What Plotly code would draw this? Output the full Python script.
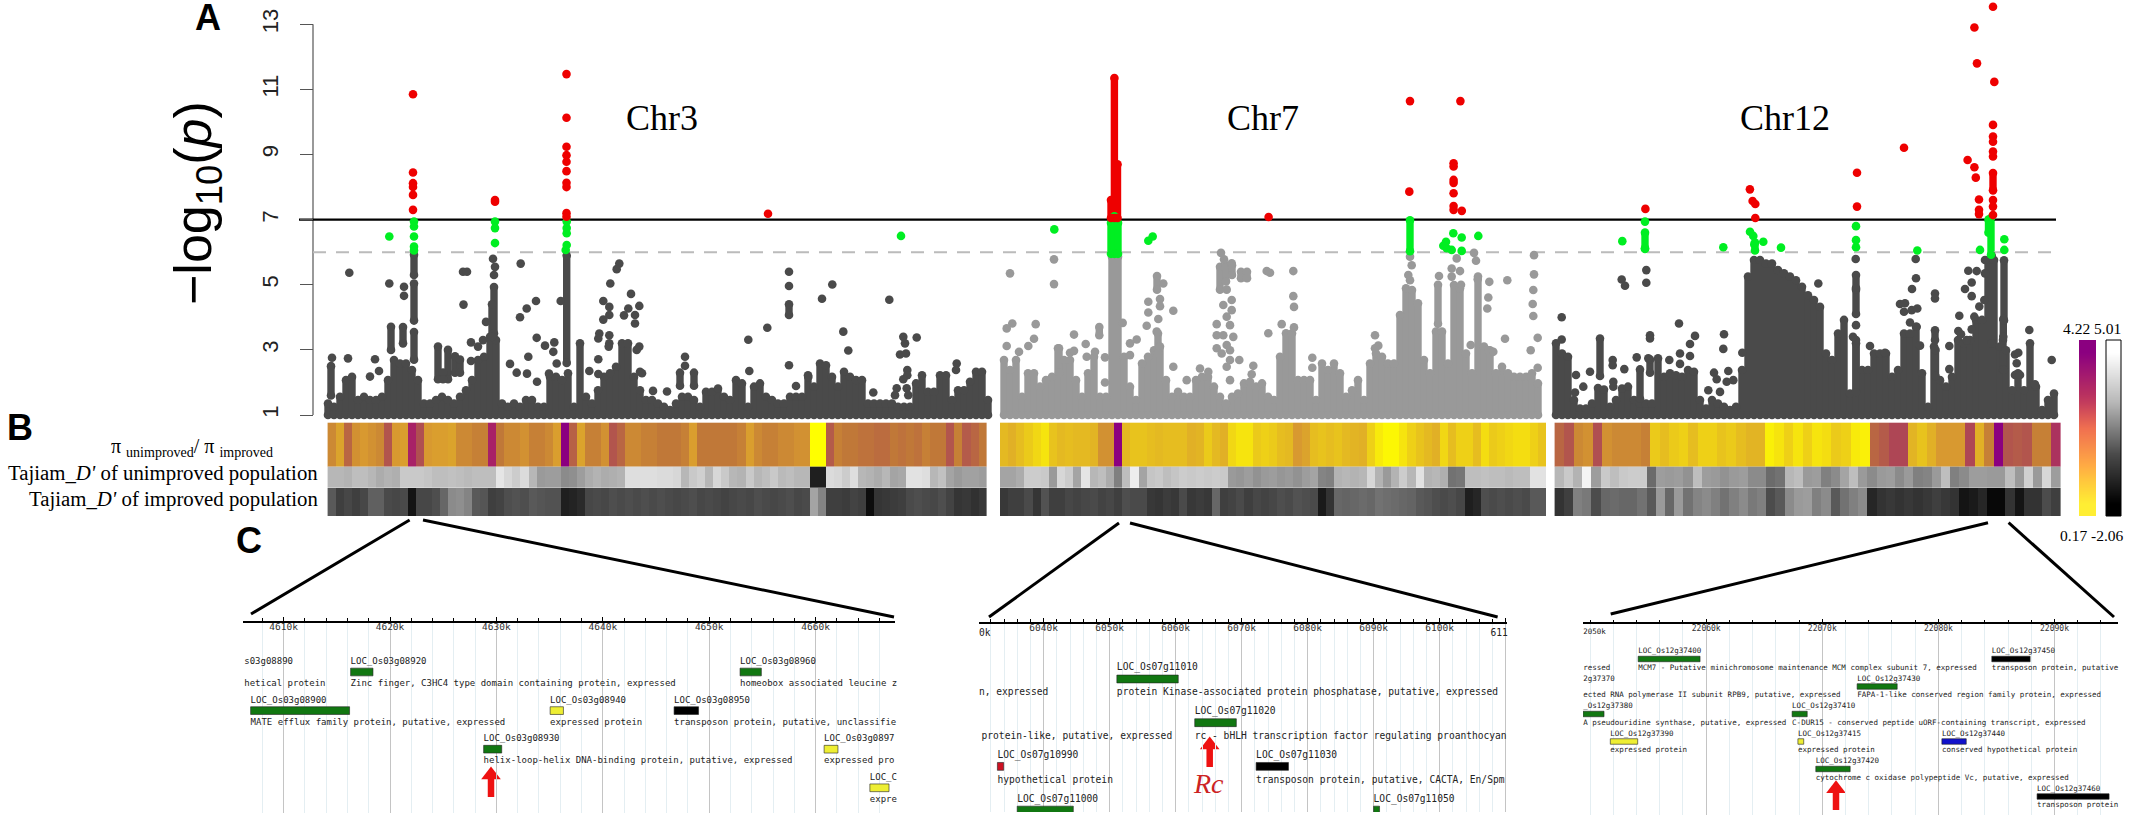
import plotly.graph_objects as go

W, H = 2139, 819

# ---- panel A: -log10(p), x is position along the strip, y is the value
chr3_bin_x = list(range(328, 994, 6))
chr3_top = [1.35, 1.25, 1.56, 2.07, 2.17, 1.46, 1.56, 1.46, 1.46, 1.56, 2.07, 2.69, 2.58, 2.58, 2.38, 2.07, 1.35, 1.35, 1.46, 1.56,
            1.46, 1.35, 1.56, 1.76, 2.07, 2.69, 2.79, 3.40, 3.30, 1.35, 1.25, 1.35, 1.25, 1.46, 1.46, 1.25, 1.25, 2.17, 2.17, 2.07,
            2.28, 1.25, 3.20, 1.56, 1.35, 1.76, 2.17, 2.28, 2.48, 3.20, 3.20, 2.17, 1.76, 1.46, 1.46, 1.35, 1.25, 1.15,
            1.35, 1.56, 1.56, 1.46, 1.25, 1.71, 1.71, 1.81, 1.56, 1.46, 2.07, 1.97, 1.25, 1.87, 1.97, 1.56, 1.46, 1.35, 1.35, 1.56,
            1.56, 1.56, 2.22, 1.87, 2.58, 2.53, 2.17, 1.87, 2.33, 2.17, 2.07, 2.07, 1.35, 1.35, 1.35, 1.35, 1.35, 1.25, 1.25, 1.25,
            1.97, 2.22, 1.71, 1.71, 2.22, 2.22, 1.46, 1.76, 1.76, 2.02, 2.33, 2.33, 1.46]
chr3_seg_x = [414, 414, 414, 391, 403, 331, 438, 448, 455, 460, 443, 494, 492, 566.7, 789, 680, 694]
chr3_seg_lo = [5.3, 3.9, 2.7, 3.0, 3.2, 1.6, 2.1, 2.1, 2.3, 2.3, 2.1, 3.5, 3.4, 2.6, 4.07, 1.9, 1.9]
chr3_seg_hi = [5.92, 5.04, 3.55, 3.71, 3.7, 2.5, 3.1, 3.0, 2.8, 2.7, 2.3, 4.93, 4.4, 5.9, 4.4, 2.3, 2.3]
chr3_dot_x = [404, 404, 349.3, 389.3, 332, 348, 375, 379, 370, 471, 471, 478, 483, 486, 463, 467, 463.5, 520.7, 536, 526.7, 520, 536.7,
              545, 554.3, 553.3, 528.3, 556.7, 549, 493, 495, 494, 560.7, 510, 516.7, 527, 537, 619.3, 616.7, 610.3, 603.3, 609.3, 609.3,
              603.3, 599.3, 598.3, 609.3, 609.3, 608.7, 598.3, 598.3, 589.3, 631, 639.3, 628.3, 624, 635, 635, 639.3, 636.7, 640, 642,
              653, 667, 789, 789, 767.3, 748.3, 749.3, 789, 832.3, 822, 843.3, 848.3, 889.3, 903.3, 905, 906, 900, 916.7, 956.7, 956,
              907.3, 907.3, 903.3, 896.7, 895, 906.7, 908.3, 873.3, 796, 685, 685, 808.3]
chr3_dot_y = [4.94, 4.66, 5.37, 5.04, 2.76, 2.74, 2.71, 2.35, 2.18, 3.23, 2.66, 3.1, 3.3, 3.86, 5.4, 5.4, 4.39, 5.65, 4.5, 4.27, 4.0, 3.37,
              3.13, 3.23, 2.94, 2.79, 2.58, 2.27, 5.8, 5.55, 5.3, 4.5, 2.57, 2.3, 2.27, 2.02, 5.65, 5.48, 5.04, 4.5, 4.32, 4.07,
              3.93, 3.5, 3.35, 3.45, 3.2, 3.1, 2.71, 2.26, 2.35, 4.72, 4.35, 4.27, 4.06, 4.07, 3.81, 3.1, 3.0, 2.33, 2.28,
              1.74, 1.72, 5.40, 4.96, 3.68, 3.31, 2.35, 2.53, 5.01, 4.57, 3.56, 2.98, 4.54, 3.4, 3.2, 2.89, 2.86, 3.38, 2.58, 2.38,
              2.38, 2.22, 2.1, 1.82, 1.61, 1.82, 1.61, 1.69, 1.89, 2.79, 2.51, 2.17]

chr7_bin_x = list(range(1004, 1544, 6))
chr7_top = [2.69, 2.38, 2.69, 1.56, 2.28, 2.28, 1.87, 2.07, 2.17, 3.05, 2.69, 2.69, 2.07, 1.56, 2.28, 2.79, 1.56, 1.56, 5.86, 5.86,
            2.79, 1.87, 1.46, 2.58, 2.79, 2.99, 3.10, 2.07, 1.56, 1.71, 1.56, 1.56, 2.07, 2.17, 2.17, 1.87, 1.56, 1.35, 1.56, 1.66,
            1.97, 2.02, 1.87, 1.97, 1.56, 1.46, 2.79, 3.51, 3.51, 2.07, 2.07, 2.07, 1.46, 2.58, 2.38, 2.58, 2.28, 1.56,
            1.76, 2.07, 1.46, 2.58, 2.89, 2.79, 2.58, 2.58, 4.07, 4.89, 4.84, 4.43, 2.69, 2.28, 3.56, 3.56, 2.58, 4.99, 4.89, 2.89,
            2.28, 5.25, 3.10, 2.99, 2.28, 2.48, 2.28, 2.17, 2.17, 2.17, 2.28, 1.97]
chr7_seg_x = [1099.3, 1059, 1157, 1158, 1220, 1226, 1232, 1241, 1247, 1438]
chr7_seg_lo = [3.45, 2.3, 4.85, 2.9, 4.85, 5.1, 5.3, 5.2, 5.2, 3.8]
chr7_seg_hi = [3.7, 3.05, 5.27, 3.5, 5.55, 5.6, 5.6, 5.4, 5.4, 5.0]
chr7_dot_x = [1054, 1054, 1010, 1012.3, 1006.7, 1035.7, 1034, 1006.7, 1028.3, 1019, 1074, 1085.7, 1070, 1074, 1095, 1086.7, 1105, 1105,
              1122.7, 1136.7, 1130, 1130, 1163.3, 1160, 1148.3, 1148.3, 1160, 1173.3, 1146.7, 1158.3, 1156.7, 1173.3, 1221, 1224, 1231.7,
              1226.7, 1231.7, 1223.3, 1231.7, 1226.7, 1230, 1216.7, 1233.3, 1216.7, 1223.3, 1226.7, 1216.7, 1221.7, 1230, 1230, 1226.7,
              1239.3, 1253.3, 1251.7, 1230, 1266.7, 1270, 1293.3, 1293.3, 1294, 1281.7, 1268.3, 1294, 1312.3, 1312.3, 1200, 1208.3, 1186.7,
              1439, 1410, 1411.7, 1408.3, 1410, 1456.7, 1451.7, 1460, 1451.7, 1461, 1474, 1476, 1477.7, 1489.3, 1507.3, 1488.3, 1487.3,
              1534, 1534, 1533.3, 1532.7, 1533.3, 1537.7, 1530.7, 1537.7, 1505, 1375, 1378.3, 1375, 1470.7, 1488.3, 1493.3]
chr7_dot_y = [5.78, 5.02, 5.35, 3.81, 3.66, 3.79, 3.34, 3.12, 3.12, 2.94, 3.47, 3.18, 2.91, 2.97, 2.94, 2.79, 2.77, 2.0,
              3.83, 3.32, 3.2, 2.84, 5.04, 4.56, 4.48, 4.15, 4.34, 4.2, 3.74, 3.95, 3.56, 2.48, 5.98, 5.78, 5.66,
              4.85, 4.53, 4.38, 4.22, 4.02, 3.76, 3.79, 3.4, 3.45, 3.45, 3.15, 3.05, 2.89, 2.99, 2.69, 2.48,
              2.69, 2.51, 2.25, 2.07, 5.42, 5.37, 5.42, 4.65, 4.32, 3.79, 3.51, 3.69, 2.76, 2.45, 2.43, 2.33, 2.07,
              5.27, 5.86, 5.6, 5.3, 5.14, 5.81, 5.5, 5.42, 5.25, 5.0, 5.98, 5.74, 5.17, 5.09, 5.14, 4.61, 4.27,
              5.91, 5.32, 4.84, 4.41, 4.04, 3.37, 2.99, 2.45, 3.34, 3.45, 3.13, 3.05, 3.15, 2.99, 2.94]

chr12_bin_x = list(range(1556, 2060, 6))
chr12_top = [3.2, 2.89, 2.79, 1.46, 1.2, 1.2, 1.35, 1.83, 1.78, 1.25, 1.46, 1.81, 1.87, 1.46, 1.35, 1.35, 1.35, 2.74, 2.17, 2.28, 2.22, 2.17, 2.38, 2.33,
             1.46, 1.2, 1.46, 1.35, 1.25, 1.15, 1.25, 2.38, 5.25, 5.76, 5.76, 5.65, 5.65, 5.45, 5.35, 5.25, 5.14, 4.94, 4.68, 4.53, 4.32, 2.89, 2.69, 3.5,
             3.92, 1.66, 3.2, 2.38, 2.38, 2.89, 2.89, 2.89, 2.17, 2.38, 3.5, 3.5, 3.71, 2.28, 1.25, 3.1, 2.07, 1.87, 2.17, 3.3, 3.2, 3.3, 3.92, 3.92,
             5.76, 5.76, 3.1, 2.99, 1.76, 2.28, 1.76, 3.2, 1.87, 1.15, 1.46, 1.66]
chr12_seg_x = [1600, 1650, 1640, 1856, 1856, 1856, 1935, 1935.5, 1991.7, 2004, 2003.3, 2003]
chr12_seg_lo = [2.2, 2.3, 1.5, 4.9, 4.1, 1.7, 3.3, 2.2, 3.2, 3.9, 3.4, 2.4]
chr12_seg_hi = [3.35, 2.7, 2.4, 5.3, 4.85, 3.3, 3.6, 3.0, 5.9, 5.75, 3.95, 3.3]
chr12_dot_x = [1561.7, 1561.7, 1576, 1590, 1583.3, 1575, 1612.7, 1612.7, 1624.3, 1613.3, 1613.3, 1621.7, 1625, 1646.3, 1646.3, 1650, 1650, 1636.7, 1648.3,
               1679, 1695, 1690, 1680, 1690, 1680, 1669.3, 1724, 1723.3, 1742.3, 1714, 1728.3, 1716.7, 1726.7, 1733.3, 1708.3, 1720, 1818.3,
               1855.7, 1856, 1853, 1870, 1885, 1915.7, 1916, 1912, 1900, 1905, 1904, 1911.7, 1917.3, 1910, 1916.7, 1920, 1935, 1935,
               1949.3, 1949.3, 1968.3, 1976.7, 1971.7, 1965, 1971.7, 1985, 1985, 1984.3, 1979.3, 1959.3, 1974.3, 1958.3, 1971.7, 1961, 1966.7,
               2004, 2015, 2018.3, 2016.7, 2015, 2020, 2029.3, 2051.7, 2035]
chr12_dot_y = [4.0, 3.32, 2.23, 2.33, 1.87, 1.69, 2.69, 2.53, 2.41, 2.02, 1.87, 5.16, 4.97, 5.45, 5.06, 3.45, 3.35, 2.77, 2.74,
               3.81, 3.43, 3.18, 2.89, 2.81, 2.57, 2.69, 3.48, 3.03, 2.91, 2.3, 2.35, 2.1, 2.02, 2.07, 1.76, 1.71, 5.04,
               5.79, 3.76, 3.4, 3.12, 2.91, 5.79, 5.2, 4.87, 4.41, 4.43, 4.17, 4.22, 4.27, 3.84, 3.71, 3.13, 4.73, 4.58,
               3.12, 2.41, 5.43, 5.42, 5.07, 4.87, 4.65, 5.35, 5.76, 4.53, 4.33, 4.05, 4.02, 3.58, 3.63, 3.48, 3.3,
               2.38, 2.86, 2.91, 2.59, 2.23, 2.23, 3.61, 2.69, 1.94]

red_x = [413, 413, 413, 413, 413, 413, 495, 495, 566.5, 566.5, 566.5, 566.5, 566.5, 566.5, 566.5, 566.5, 566.5, 566.5, 768,
         1268.6, 1410, 1409.3, 1460.4, 1453.6, 1453.6, 1453.6, 1453.6, 1453.6, 1453.6, 1453.6, 1461.8,
         1645.4, 1749.9, 1752.6, 1755.3, 1755.3, 1857, 1857, 1904, 1967.6, 1974.4, 1975.8, 1979, 1979, 1979,
         1974.4, 1977, 1993, 1994.3, 1993, 1993, 1993, 1993, 1993, 1993, 1993, 1993]
red_y = [10.85, 8.45, 8.12, 8.0, 7.76, 7.3, 7.6, 7.55, 11.47, 10.13, 9.24, 8.98, 8.78, 8.49, 8.13, 8.0, 7.2, 7.09, 7.18,
         7.08, 10.64, 7.86, 10.64, 8.73, 8.63, 8.22, 8.13, 7.81, 7.42, 7.3, 7.27,
         7.33, 7.93, 7.57, 7.48, 7.05, 8.44, 7.4, 9.21, 8.83, 8.61, 8.29, 7.62, 7.3, 7.17,
         12.9, 11.8, 13.54, 11.23, 9.91, 9.55, 9.39, 9.09, 8.94, 7.6, 7.4, 7.14]
red_seg_x = [1114.4, 1111, 1117.5, 1993]
red_seg_lo = [7.05, 7.05, 7.05, 7.9]
red_seg_hi = [11.35, 7.6, 8.7, 8.43]

green_x = [389.3, 414, 414, 414, 414, 414, 495, 495, 495, 566.7, 566.7, 566.7, 565.7, 566.7, 901, 1054.3, 1148.3, 1152.7, 1453.3, 1461.7, 1478.3,
           1446, 1443.3, 1451.7, 1461.7, 1446.7, 1622.3, 1645, 1645, 1723.3, 1750, 1753.3, 1754.3, 1763.3, 1781, 1856, 1856, 1856, 1917.3, 1980, 2004.3, 2004.3]
green_y = [6.48, 6.94, 6.79, 6.48, 6.17, 6.05, 6.94, 6.74, 6.28, 6.74, 6.58, 6.22, 6.07, 6.94, 6.5, 6.7, 6.35, 6.48, 6.58, 6.45, 6.5,
           6.32, 6.2, 6.07, 6.04, 6.12, 6.34, 6.94, 6.12, 6.15, 6.63, 6.5, 6.24, 6.32, 6.14, 6.8, 6.37, 6.15, 6.05, 6.07, 6.4, 6.07]
green_seg_x = [1111, 1114.4, 1118, 1410, 1645, 1991, 1755, 1988.5]
green_seg_lo = [5.95, 5.95, 5.95, 6.03, 6.1, 5.92, 6.05, 6.6]
green_seg_hi = [6.9, 7.1, 6.9, 6.98, 6.6, 7.05, 6.3, 7.0]

# ---- panel B: strips
pi_chr3 = [2.2, 1.8, 2.7, 2.1, 2.0, 2.1, 2.2, 3.0, 2.0, 1.9, 3.6, 3.1, 2.0, 1.9, 1.9, 1.8, 2.2, 2.2, 2.3, 2.3, 3.6, 2.4, 2.2, 2.2, 2.1, 2.3, 2.3, 2.2, 1.9,
           4.22, 2.8, 1.8, 2.3, 2.3, 2.1, 3.0, 2.7, 2.2, 2.2, 2.3, 2.3, 2.4, 2.4, 2.4, 2.3, 1.9, 2.4, 2.4, 2.4, 2.4, 2.4, 2.3, 1.9, 2.2, 2.3, 2.3, 2.2, 2.2, 2.1, 2.1,
           0.17, 0.17, 2.9, 2.3, 2.4, 2.4, 2.5, 2.5, 2.6, 2.6, 2.4, 2.5, 2.4, 2.5, 2.3, 2.4, 2.4, 3.0, 2.3, 2.9, 2.7, 2.4]
pi_chr7 = [1.3, 1.5, 1.2, 1.0, 0.8, 0.6, 1.1, 1.3, 1.2, 1.3, 1.3, 1.4, 2.1, 2.1, 4.22, 1.3, 1.1, 1.1, 1.2, 1.3, 1.2, 1.2, 1.2, 1.5, 1.4, 1.0, 1.3, 1.5,
           0.8, 0.6, 0.6, 1.0, 0.9, 1.0, 1.2, 1.3, 2.0, 1.8, 1.2, 1.1, 1.2, 1.1, 1.3, 1.4, 1.5, 0.9, 0.5, 0.3, 0.3, 0.6, 0.9, 1.1, 1.3, 1.5, 0.8, 1.2, 0.9, 0.9,
           1.2, 0.7, 1.0, 0.9, 0.8, 0.7, 0.7, 0.9, 1.1]
pi_chr12 = [2.7, 3.0, 2.2, 2.1, 3.1, 2.1, 2.2, 2.2, 2.2, 2.3, 1.0, 1.2, 1.0, 0.9, 1.2, 0.9, 0.9, 1.1, 1.0, 1.2, 1.4, 1.4, 0.4, 0.6, 0.9, 0.6, 0.9, 0.6, 0.7,
            1.0, 0.9, 0.5, 0.4, 2.7, 2.9, 3.2, 3.2, 1.4, 1.1, 1.5, 2.0, 2.0, 2.0, 3.2, 1.5, 2.3, 4.22, 3.0, 2.9, 3.0, 2.3, 2.3, 3.4]
tu_chr3 = [3.0, 3.0, 2.9, 3.2, 3.2, 3.0, 2.7, 2.9, 2.8, 3.5, 3.5, 3.5, 3.4, 3.2, 3.2, 3.3, 3.2, 3.1, 3.2, 3.2, 3.2, 4.3, 3.9, 3.6, 4.0, 3.0, 2.2, 2.3, 2.3,
           1.8, 1.9, 2.3, 2.7, 2.9, 2.7, 2.8, 2.9, 4.1, 4.1, 4.1, 4.1, 4.0, 4.0, 3.9, 3.0, 3.5, 3.7, 3.0, 3.9, 3.5, 3.0, 2.9, 3.5, 3.0, 3.2, 3.5, 3.1, 3.2, 3.0, 3.0,
           -1.2, -1.2, 4.0, 3.9, 3.6, 4.1, 3.0, 2.9, 2.7, 3.0, 2.5, 2.6, 4.2, 4.2, 4.1, 3.0, 3.3, 2.5, 2.2, 2.4, 2.4, 2.3]
tu_chr7 = [2.5, 2.5, 2.7, 3.6, 3.6, 3.5, 2.2, 3.9, 3.6, 2.5, 4.3, 3.0, 3.2, 2.7, 1.5, 3.2, 4.5, 2.5, 3.4, 3.5, 3.2, 3.4, 3.6, 3.5, 3.6, 3.5, 3.6, 3.5,
           2.2, 2.1, 2.3, 2.0, 2.2, 2.3, 2.1, 2.2, 2.0, 2.3, 2.5, 1.6, 1.5, 2.9, 3.0, 2.9, 3.0, 3.9, 2.9, 2.2, 2.9, 3.6, 3.0, 4.2, 2.9, 3.0, 2.8, 1.1, 1.2,
           3.2, 3.2, 3.3, 3.2, 3.2, 3.1, 3.2, 3.2, 4.2, 4.2]
tu_chr12 = [3.0, 3.5, 2.9, 4.7, 2.3, 3.5, 3.2, 3.5, 3.6, 3.6, 0.9, 2.3, 2.2, 2.3, 2.0, 3.2, 2.3, 2.2, 2.0, 2.2, 2.3, 1.8, 1.8, 0.9, 1.1, 3.0, 3.2, 2.2, 2.3,
            1.5, 1.8, 2.5, 3.2, 2.2, 1.8, 2.2, 2.3, 1.8, 2.2, 1.5, 1.6, 2.2, 3.2, 1.5, 1.8, 2.3, 2.3, 2.2, 2.2, 3.2, 2.2, 3.7, 2.2, 3.9, 2.3]
ti_chr3 = [0.4, -0.3, -0.1, -0.3, -0.1, 0.6, 0.6, 0.0, -0.1, 0.0, -1.5, -0.1, -0.1, 0.1, 0.8, 1.8, 1.9, 1.6, 0.4, 0.3, -0.3, -0.2, 0.1, 0.2, 0.1, 0.4, 0.3, 0.2, 0.2,
           -1.2, -1.1, -0.9, -0.1, 0.0, -0.1, 0.1, 0.0, 0.1, 0.0, 0.1, 0.0, 0.1, 0.0, -0.1, 0.0, 0.1, -0.1, 0.0, -0.1, -0.2, -0.1, 0.0, -0.1, 0.1, 0.0, -0.1, 0.0, 0.1, -0.1, 0.0,
           2.5, 1.6, -0.3, -0.3, -0.4, -0.2, -0.3, -1.7, -0.6, -0.5, -0.4, -0.3, 0.0, 0.1, 0.0, -0.1, 0.1, -0.2, -0.6, -0.5, -0.7, -0.5]
ti_chr7 = [-0.5, -0.3, -0.3, 0.0, -0.6, 0.2, -0.3, -0.3, -0.1, -0.2, -0.1, 0.0, -0.2, -0.1, -0.3, 0.1, 0.0, 0.0, -0.5, -0.6, -0.4, -0.5, 0.0, -0.5, -0.4, -0.5, 0.8,
           -0.3, -0.2, 0.0, -0.3, -0.1, -0.2, -0.1, 0.1, 0.0, 0.2, 0.1, 0.0, -1.35, -0.65, 0.8, 0.7, 0.8, 0.9, 0.8, 1.1, 1.0, 0.9, 0.8, 0.7, 0.4, 0.3, 0.1, 0.0, 0.1, -0.1,
           -1.2, -1.0, 0.1, 0.0, 0.1, 0.0, 0.1, 0.0, 0.4, 0.4]
ti_chr12 = [-0.65, -0.3, 1.5, 1.3, 0.06, 0.8, 0.9, 0.8, 0.8, 1.1, 0.4, 2.2, 0.8, 2.2, 1.1, 1.6, 1.8, 1.5, 1.1, 1.5, 1.8, 1.3, 1.5, 0.06, 0.4, 1.8, 2.2, 2.3, 1.5, 1.8,
            0.4, 1.1, 1.5, 1.8, -1.0, -0.65, -0.5, -0.65, -0.5, -0.65, -0.5, -0.3, -0.5, -0.65, -1.5, -1.35, -1.0, -1.85, -1.85, -0.65, -1.5, -0.65, -0.65, 0.06, -0.3]

pi_scale_z = [4.22, 3.6, 3.0, 2.2, 1.5, 0.8, 0.17]
gray_scale_z = [5.01, 4.0, 3.0, 1.5, 0.0, -1.0, -2.06]

# ---- panel C: gene tracks, positions in kb
p1_names = ["LOC_Os03g08920", "LOC_Os03g08960", "LOC_Os03g08900", "LOC_Os03g08940", "LOC_Os03g08950", "LOC_Os03g08930", "LOC_Os03g0897", "LOC_C"]
p1_start = [4616.3, 4652.9, 4606.9, 4635.05, 4646.7, 4628.8, 4660.8, 4665.1]
p1_end = [4618.4, 4654.9, 4616.2, 4636.3, 4649.0, 4630.5, 4662.1, 4666.9]
p1_row = [0, 0, 1, 1, 1, 2, 2, 3]
p1_color = ["#117711", "#117711", "#117711", "#EEEE33", "#000000", "#117711", "#EEEE33", "#EEEE33"]
p1_desc = ["Zinc finger, C3HC4 type domain containing protein, expressed", "homeobox associated leucine z",
           "MATE efflux family protein, putative, expressed", "expressed protein", "transposon protein, putative, unclassifie",
           "helix-loop-helix DNA-binding protein, putative, expressed", "expressed pro", "expre"]
p1_extra_x = [4606.3, 4606.3]
p1_extra_row = [-0.26, 0.31]
p1_extra_text = ["s03g08890", "hetical protein"]

p2_names = ["LOC_Os07g11010", "LOC_Os07g11020", "LOC_Os07g10990", "LOC_Os07g11030", "LOC_Os07g11000", "LOC_Os07g11050"]
p2_start = [6051.1, 6062.9, 6033.0, 6072.2, 6036.0, 6090.0]
p2_end = [6060.4, 6069.2, 6033.95, 6077.1, 6044.5, 6090.9]
p2_row = [0, 1, 2, 2, 3, 3]
p2_color = ["#117711", "#117711", "#CC1122", "#000000", "#117711", "#117711"]
p2_desc = ["protein Kinase-associated protein phosphatase, putative, expressed", "rc - bHLH transcription factor regulating proanthocyan",
           "hypothetical protein", "transposon protein, putative, CACTA, En/Spm", "", ""]
p2_extra_x = [6030.2, 6030.6, 6030.2, 6107.7]
p2_extra_row = [0.32, 1.32, -1.05, -1.05]
p2_extra_text = ["n, expressed", "protein-like, putative, expressed", "0k", "611"]

p3_names = ["LOC_Os12g37400", "LOC_Os12g37450", "LOC_Os12g37430", "_Os12g37380", "LOC_Os12g37410", "LOC_Os12g37390", "LOC_Os12g37415",
            "LOC_Os12g37440", "LOC_Os12g37420", "LOC_Os12g37460"]
p3_start = [22054.14, 22084.6, 22073.0, 22049.4, 22067.4, 22051.74, 22067.9, 22080.3, 22069.44, 22088.5]
p3_end = [22059.47, 22087.9, 22076.45, 22051.2, 22068.7, 22054.1, 22068.4, 22082.4, 22072.4, 22094.7]
p3_row = [0, 0, 1, 2, 2, 3, 3, 3, 4, 5]
p3_color = ["#117711", "#000000", "#117711", "#117711", "#117711", "#EEEE33", "#EEEE33", "#1111CC", "#117711", "#000000"]
p3_desc = ["MCM7 - Putative minichromosome maintenance MCM complex subunit 7, expressed", "transposon protein, putative",
           "FAPA-1-like conserved region family protein, expressed", "A pseudouridine synthase, putative, expressed",
           "C-DUR15 - conserved peptide uORF-containing transcript, expressed", "expressed protein", "expressed protein",
           "conserved hypothetical protein", "cytochrome c oxidase polypeptide Vc, putative, expressed", "transposon protein"]
p3_extra_x = [22049.4, 22049.4, 22049.4, 22049.4]
p3_extra_row = [0.32, 0.73, 1.32, -0.98]
p3_extra_text = ["ressed", "2g37370", "ected RNA polymerase II subunit RPB9, putative, expressed", "2050k"]

GREEN, RED = "#00EE22", "#EE0000"
DARK, LIGHT = "#4A4A4A", "#999999"

fig = go.Figure()

# axis line stops at 13 although the scale runs on to the top of the page
fig.add_trace(go.Scatter(x=[313, 313], y=[1, 13], mode="lines", line=dict(color="#555555", width=1.2), hoverinfo="skip"))
# threshold lines go under the dots
fig.add_trace(go.Scatter(x=[313, 2056], y=[6, 6], mode="lines", line=dict(color="#BBBBBB", width=2, dash="13px,10px"),
                         hoverinfo="skip"))
fig.add_trace(go.Scatter(x=[299, 2056], y=[7, 7], mode="lines", line=dict(color="black", width=2.2),
                         hoverinfo="skip"))


def add_points(bin_x, top, seg_x, seg_lo, seg_hi, dot_x, dot_y, color):
    xs = list(bin_x) + list(seg_x)
    lows = [1.0] * len(bin_x) + list(seg_lo)
    highs = list(top) + list(seg_hi)
    fig.add_trace(go.Bar(x=xs, base=lows, y=[h - l for h, l in zip(highs, lows)], width=7.4,
                         marker=dict(color=color, line=dict(width=0)), cliponaxis=False, hoverinfo="skip"))
    fig.add_trace(go.Scatter(x=xs + xs + list(dot_x), y=highs + lows + list(dot_y), mode="markers",
                             marker=dict(color=color, size=8.6), cliponaxis=False, hoverinfo="skip"))


add_points(chr3_bin_x, chr3_top, chr3_seg_x, chr3_seg_lo, chr3_seg_hi, chr3_dot_x, chr3_dot_y, DARK)
add_points(chr7_bin_x, chr7_top, chr7_seg_x, chr7_seg_lo, chr7_seg_hi, chr7_dot_x, chr7_dot_y, LIGHT)
add_points(chr12_bin_x, chr12_top, chr12_seg_x, chr12_seg_lo, chr12_seg_hi, chr12_dot_x, chr12_dot_y, DARK)
add_points([], [], green_seg_x, green_seg_lo, green_seg_hi, green_x, green_y, GREEN)
add_points([], [], red_seg_x, red_seg_lo, red_seg_hi, red_x, red_y, RED)

heat_pi = [[0, "#FFFF00"], [0.12, "#F5E010"], [0.25, "#E6BE20"], [0.45, "#D89A30"], [0.55, "#C07838"],
           [0.72, "#B05050"], [0.85, "#A82068"], [1, "#8B0080"]]
heat_gray = [[0, "#000000"], [1, "#FFFFFF"]]
bar_pi = [[0, "#FFEE33"], [0.25, "#FFAA44"], [0.5, "#F07050"], [0.75, "#B83060"], [1, "#8B0080"]]


def add_strip(values, x0, x1, y0, y1, scale, zmin, zmax):
    dx = (x1 - x0) / len(values)
    fig.add_trace(go.Heatmap(z=[values], x0=x0 + dx / 2, dx=dx, y=[y0, y1], colorscale=scale,
                             zmin=zmin, zmax=zmax, showscale=False, yaxis="y2", hoverinfo="skip"))


rows_px = [(422.7, 466.7), (466.7, 488), (488, 515.5)]
for x0, x1, strips in [(327.6, 987, (pi_chr3, tu_chr3, ti_chr3)), (1000, 1546, (pi_chr7, tu_chr7, ti_chr7)),
                       (1554.6, 2061, (pi_chr12, tu_chr12, ti_chr12))]:
    add_strip(strips[0], x0, x1, rows_px[0][0], rows_px[0][1], heat_pi, 0.17, 4.22)
    add_strip(strips[1], x0, x1, rows_px[1][0], rows_px[1][1], heat_gray, -2.06, 5.01)
    add_strip(strips[2], x0, x1, rows_px[2][0], rows_px[2][1], heat_gray, -2.06, 5.01)

# the two colour keys, stops evenly spaced from y=340 to y=516
for x0, x1, vals, scale in [(2079, 2096, pi_scale_z, bar_pi), (2106, 2121, gray_scale_z, heat_gray)]:
    step = (516 - 340) / len(vals)
    fig.add_trace(go.Heatmap(z=[[v] * 2 for v in vals], x0=x0 + (x1 - x0) / 4, dx=(x1 - x0) / 2, y0=340 + step / 2, dy=step,
                             colorscale=scale, zmin=min(vals), zmax=max(vals),
                             zsmooth="best", showscale=False, yaxis="y2", hoverinfo="skip"))

# lines that fan out from the strips to the gene views
fan_x = [[409.6, 251], [423, 894], [1119, 989], [1130, 1497.6], [1988, 1610.7], [2008.6, 2114]]
fan_y = [[520, 614], [520, 617], [523, 617], [523, 617], [522.7, 614], [522.7, 617]]
for fx, fy in zip(fan_x, fan_y):
    fig.add_trace(go.Scatter(x=fx, y=fy, mode="lines", line=dict(color="black", width=3), yaxis="y2", hoverinfo="skip"))

# outline of the gray key
fig.add_trace(go.Scatter(x=[2106, 2121, 2121, 2106, 2106], y=[340, 340, 516, 516, 340], mode="lines",
                         line=dict(color="black", width=1), yaxis="y2", hoverinfo="skip"))


def add_genes(n, names, start, end, row, color, desc, ex_x, ex_row, ex_text, bar_h, name_off, desc_off, size):
    xa, ya = f"x{n}", f"y{n}"
    fig.add_trace(go.Bar(y=row, base=start, x=[b - a for a, b in zip(start, end)], orientation="h", width=bar_h,
                         marker=dict(color=color, line=dict(color="#222222", width=0.6)), xaxis=xa, yaxis=ya, hoverinfo="skip"))
    font = dict(family="DejaVu Sans Mono", size=size, color="#222222")
    fig.add_trace(go.Scatter(x=start, y=[r + name_off for r in row], text=names, mode="text", textposition="middle right",
                             textfont=font, xaxis=xa, yaxis=ya, cliponaxis=False, hoverinfo="skip"))
    keep = [i for i, d in enumerate(desc) if d]
    fig.add_trace(go.Scatter(x=[start[i] for i in keep], y=[row[i] + desc_off for i in keep], text=[desc[i] for i in keep],
                             mode="text", textposition="middle right",
                             textfont=font, xaxis=xa, yaxis=ya, cliponaxis=False, hoverinfo="skip"))
    fig.add_trace(go.Scatter(x=ex_x, y=ex_row, text=ex_text, mode="text", textposition="middle right",
                             textfont=font, xaxis=xa, yaxis=ya, cliponaxis=False, hoverinfo="skip"))


add_genes(3, p1_names, p1_start, p1_end, p1_row, p1_color, p1_desc, p1_extra_x, p1_extra_row, p1_extra_text, 0.2, -0.26, 0.31, 9)
add_genes(4, p2_names, p2_start, p2_end, p2_row, p2_color, p2_desc, p2_extra_x, p2_extra_row, p2_extra_text, 0.18, -0.25, 0.32, 9.6)
add_genes(5, p3_names, p3_start, p3_end, p3_row, p3_color, p3_desc, p3_extra_x, p3_extra_row, p3_extra_text, 0.2, -0.27, 0.32, 7.5)

# red arrows: shaft plus triangle head
for ax_x, tip_y, tail_y in [(491, 768, 797), (1209.7, 738, 767), (1836, 781.7, 810)]:
    fig.add_trace(go.Scatter(x=[ax_x, ax_x], y=[tip_y + 8, tail_y], mode="lines", line=dict(color="#EE1111", width=6.5),
                             yaxis="y2", hoverinfo="skip"))
    fig.add_trace(go.Scatter(x=[ax_x], y=[tip_y + 7], mode="markers", marker=dict(color="#EE1111", symbol="triangle-up", size=17),
                             yaxis="y2", hoverinfo="skip"))

annotations = []


def label(x, y, text, size, family="Liberation Serif", anchor="center", color="black", angle=0):
    annotations.append(dict(x=x, y=y, xref="x", yref="y2", text=text, showarrow=False, xanchor=anchor, yanchor="middle",
                            font=dict(family=family, size=size, color=color), textangle=angle))


label(208, 17, "<b>A</b>", 36, "Liberation Sans")
label(20, 427, "<b>B</b>", 36, "Liberation Sans")
label(249, 540, "<b>C</b>", 36, "Liberation Sans")
label(662, 118, "Chr3", 36)
label(1263, 118, "Chr7", 36)
label(1785, 118, "Chr12", 36)
label(192, 447, "π <sub>unimproved</sub>/ π <sub>improved</sub>", 20)
label(320, 473, "Tajiam_<i>D'</i> of unimproved population", 20.8, anchor="right")
label(320, 499, "Tajiam_<i>D'</i> of improved population", 20.8, anchor="right")
label(197, 203, "−log<sub>10</sub>(<i>p</i>)", 52, "Liberation Sans", angle=-90)
label(2092, 328, "4.22 5.01", 15.5)
label(2092, 535, "0.17 -2.06", 15.5)
label(1208, 783, "<i>Rc</i>", 28, color="#CC2222")


def gene_axes(x0, x1, kb0, kb_per_px, px0, labels, tick_size=9.5):
    lo = kb0 - (px0 - x0) * kb_per_px
    hi = kb0 + (x1 - px0) * kb_per_px
    ticks = [kb0 + 10 * i for i in range(-1, 8)]
    return dict(domain=[x0 / W, x1 / W], range=[lo, hi], side="top", showline=True, linecolor="black", linewidth=1.5,
                ticks="outside", ticklen=4, tickcolor="black", tickvals=ticks[:len(labels)], ticktext=labels,
                ticklabelposition="inside", tickfont=dict(family="DejaVu Sans Mono", size=tick_size, color="#333333"),
                showgrid=True, gridcolor="#C4C4C4", gridwidth=1, zeroline=False, automargin=False,
                minor=dict(dtick=2, ticks="outside", ticklen=3, tickcolor="black", showgrid=True, gridcolor="#E4EEF2", gridwidth=1))


def gene_yaxis(top, bottom, row0, spacing):
    return dict(domain=[1 - bottom / H, 1 - top / H], range=[(bottom - row0) / spacing, (top - row0) / spacing],
                visible=False, fixedrange=True, automargin=False)


fig.update_layout(
    width=W, height=H, margin=dict(l=0, r=0, t=0, b=0), paper_bgcolor="white", plot_bgcolor="rgba(0,0,0,0)",
    showlegend=False, barmode="overlay", annotations=annotations,
    font=dict(family="Liberation Sans"),
    xaxis=dict(domain=[0, 1], range=[0, W], visible=False, fixedrange=True, automargin=False),
    yaxis=dict(domain=[1 - 415 / H, 1], range=[1, 1 + 415 / 32.56], anchor="free", position=313 / W, showgrid=False, zeroline=False,
               showline=False, ticks="outside", ticklen=13, tickcolor="#555555",
               tickvals=[1, 3, 5, 7, 9, 11, 13], tickangle=-90, tickfont=dict(family="Liberation Sans", size=22, color="#222222"),
               ticklabelstandoff=13, automargin=False),
    yaxis2=dict(domain=[0, 1], range=[H, 0], visible=False, anchor="x", fixedrange=True, automargin=False),
    xaxis3=gene_axes(243.4, 895, 4610, 10 / 106.4, 283.6, ["4600k", "4610k", "4620k", "4630k", "4640k", "4650k", "4660k"]),
    yaxis3=gene_yaxis(623, 813, 672, 38.6),
    xaxis4=gene_axes(978.5, 1506.8, 6040, 10 / 66.0, 1043.6, ["6030k", "6040k", "6050k", "6060k", "6070k", "6080k", "6090k", "6100k", "611"]),
    yaxis4=gene_yaxis(624, 812, 679, 43.7),
    xaxis5=gene_axes(1583, 2117.5, 22070, 10 / 116.1, 1822.3, ["22060k", "22070k", "22080k", "22090k"], 8),
    yaxis5=gene_yaxis(624.3, 815, 659, 27.5),
)
fig.update_layout(xaxis3=dict(anchor="y3"), xaxis4=dict(anchor="y4"), xaxis5=dict(anchor="y5"),
                  yaxis3=dict(anchor="x3"), yaxis4=dict(anchor="x4"), yaxis5=dict(anchor="x5"))

fig.write_html("out.html", config={"displayModeBar": False}, post_script="document.body.style.margin='0';")
